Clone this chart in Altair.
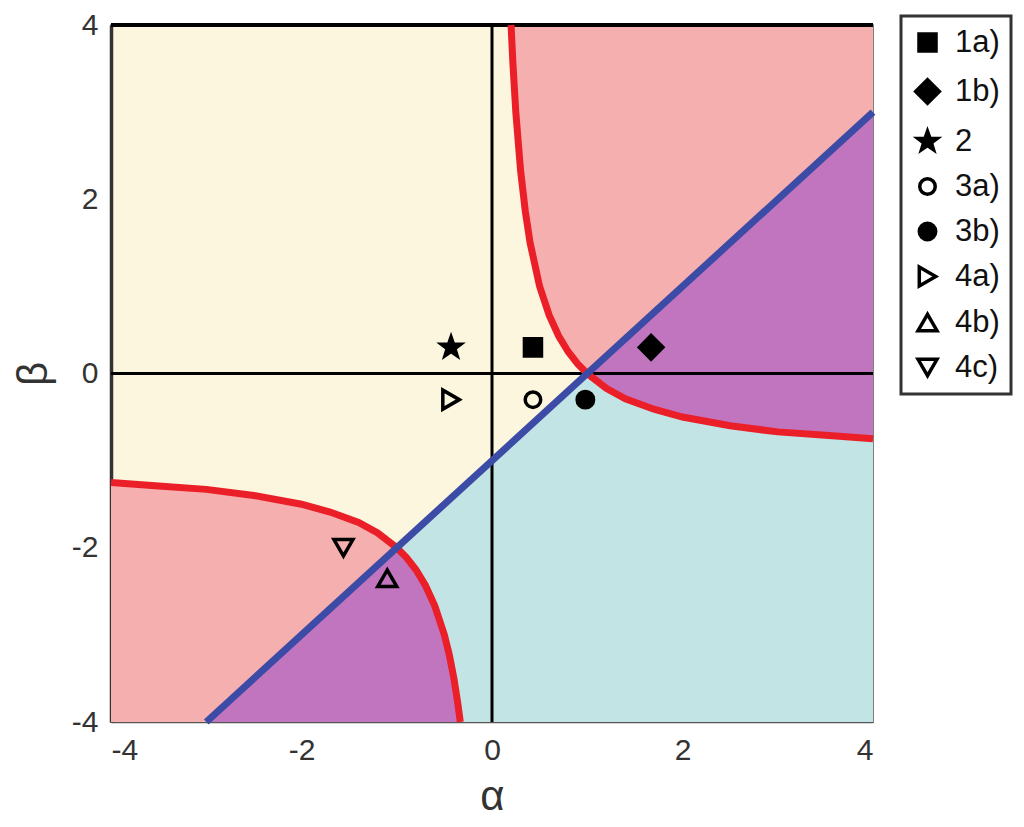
import altair as alt
import pandas as pd

# ---- data ----
# red curve, upper-right branch
red_up_a = [0.2, 0.22, 0.25, 0.3, 0.35, 0.4, 0.5, 0.6, 0.7, 0.8, 0.9, 1.0, 1.2, 1.4, 1.7, 2.0, 2.5, 3.0, 3.5, 4.0]
red_up_b = [4.0, 3.55, 3.0, 2.33, 1.86, 1.5, 1.0, 0.67, 0.43, 0.25, 0.11, 0.0, -0.17, -0.29, -0.41, -0.5, -0.6, -0.67, -0.71, -0.75]
# red curve, lower-left branch
red_lo_a = [-4.0, -3.5, -3.0, -2.5, -2.0, -1.7, -1.4, -1.2, -1.0, -0.9, -0.8, -0.7, -0.6, -0.5, -0.45, -0.4, -0.36, -0.333]
red_lo_b = [-1.25, -1.29, -1.33, -1.4, -1.5, -1.59, -1.71, -1.83, -2.0, -2.11, -2.25, -2.43, -2.67, -3.0, -3.22, -3.5, -3.78, -4.0]
# blue straight line end points
blue_a = [-3.0, 4.0]
blue_b = [-4.0, 3.0]

# markers
labels = ["1a)", "1b)", "2", "3a)", "3b)", "4a)", "4b)", "4c)"]
pt_a = [0.43, 1.67, -0.43, 0.43, 0.98, -0.43, -1.1, -1.56]
pt_b = [0.3, 0.3, 0.3, -0.3, -0.3, -0.3, -2.35, -2.0]

ticks = [-4, -2, 0, 2, 4]

# ---- styles ----
STAR = "M0,-1L0.235,-0.324L0.951,-0.309L0.38,0.124L0.588,0.809L0,0.4L-0.588,0.809L-0.38,0.124L-0.951,-0.309L-0.235,-0.324Z"
shapes = ["square", "diamond", STAR, "circle", "circle", "triangle-right", "triangle-up", "triangle-down"]
fills = ["black", "black", "black", "transparent", "black", "transparent", "transparent", "transparent"]
strokes = ["black"] * 8
sizes = [290, 560, 420, 240, 270, 360, 360, 360]

YELLOW = "#FCF6DF"
PINK = "#F6AFAF"
PURPLE = "#C275BF"
CYAN = "#C3E4E4"
RED = "#EA1F28"
BLUE = "#3C4BA5"
FONT = "Liberation Sans"

W, H = 762, 697

xs = alt.Scale(domain=[-4, 4], nice=False, zero=False)
ys = alt.Scale(domain=[-4, 4], nice=False, zero=False)


def poly(pts):
    return pd.DataFrame({"a": [p[0] for p in pts], "b": [p[1] for p in pts], "i": list(range(len(pts)))})


up = list(zip(red_up_a, red_up_b))
lo = list(zip(red_lo_a, red_lo_b))
blue_pts = list(zip(blue_a, blue_b))

pinkTR = poly(up + [(4.0, 4.0)])
pinkBL = poly([(-4.0, -4.0)] + lo)
cyan = poly(blue_pts + [(4.0, -4.0)])
purpleTR = poly([p for p in up if p[0] >= 1.0] + [blue_pts[1]])
purpleBL = poly([blue_pts[0]] + [p for p in lo if p[0] >= -1.0])


def fill_layer(df, color):
    return alt.Chart(df).mark_line(fill=color, strokeWidth=0, strokeOpacity=0).encode(
        x=alt.X("a:Q", scale=xs),
        y=alt.Y("b:Q", scale=ys),
        order="i:Q",
    )


base_x = alt.X("a:Q", scale=xs, title="α",
               axis=alt.Axis(values=ticks, ticks=False, grid=False, labelExpr="'' + datum.value",
                             labelPadding=13, titlePadding=11, domainColor="#555", domainWidth=1.5))
base_y = alt.Y("b:Q", scale=ys, title="β",
               axis=alt.Axis(values=ticks, ticks=False, grid=False, labelExpr="'' + datum.value",
                             labelPadding=13, titlePadding=16, domainColor="#333", domainWidth=3.5))

layers = []
# axis carrier (invisible)
layers.append(alt.Chart(pd.DataFrame({"a": [-4.0, 4.0], "b": [-4.0, 4.0]})).mark_point(opacity=0).encode(x=base_x, y=base_y))
layers += [fill_layer(pinkTR, PINK), fill_layer(pinkBL, PINK), fill_layer(cyan, CYAN),
           fill_layer(purpleTR, PURPLE), fill_layer(purpleBL, PURPLE)]

# zero lines and top border
layers.append(alt.Chart(pd.DataFrame({"v": [0]})).mark_rule(color="black", strokeWidth=3).encode(x=alt.X("v:Q", scale=xs)))
layers.append(alt.Chart(pd.DataFrame({"v": [0]})).mark_rule(color="black", strokeWidth=3).encode(y=alt.Y("v:Q", scale=ys)))
layers.append(alt.Chart(pd.DataFrame({"v": [4]})).mark_rule(color="black", strokeWidth=4).encode(y=alt.Y("v:Q", scale=ys)))

# red curves
red_df = pd.DataFrame({"a": red_up_a + red_lo_a, "b": red_up_b + red_lo_b,
                       "g": ["u"] * len(red_up_a) + ["l"] * len(red_lo_a),
                       "i": list(range(len(red_up_a))) + list(range(len(red_lo_a)))})
layers.append(alt.Chart(red_df).mark_line(color=RED, strokeWidth=7).encode(
    x=alt.X("a:Q", scale=xs), y=alt.Y("b:Q", scale=ys), detail="g:N", order="i:Q"))

# blue line
layers.append(alt.Chart(pd.DataFrame({"a": blue_a, "b": blue_b})).mark_line(color=BLUE, strokeWidth=7).encode(
    x=alt.X("a:Q", scale=xs), y=alt.Y("b:Q", scale=ys)))

# markers
pts = pd.DataFrame({"a": pt_a, "b": pt_b, "k": labels})
leg = alt.Legend(title=None, orient="none", legendX=790, legendY=-9)
layers.append(alt.Chart(pts).mark_point(filled=True, strokeWidth=3.5, opacity=1).encode(
    x=alt.X("a:Q", scale=xs), y=alt.Y("b:Q", scale=ys),
    shape=alt.Shape("k:N", scale=alt.Scale(domain=labels, range=shapes), legend=leg),
    fill=alt.Fill("k:N", scale=alt.Scale(domain=labels, range=fills), legend=leg),
    stroke=alt.Stroke("k:N", scale=alt.Scale(domain=labels, range=strokes), legend=leg),
    size=alt.Size("k:N", scale=alt.Scale(type="ordinal", domain=labels, range=sizes), legend=leg),
))

chart = alt.layer(*layers).properties(
    width=W, height=H,
    autosize=alt.AutoSizeParams(type="none"),
    padding={"left": 103, "top": 17, "right": 140, "bottom": 97},
).configure_view(
    fill=YELLOW, stroke="#555", strokeWidth=1.5
).configure_axis(
    labelFont=FONT, titleFont=FONT, labelFontSize=30, titleFontSize=42,
    labelColor="#333", titleColor="#333", titleFontWeight="normal",
).configure_legend(
    labelFont=FONT, labelFontSize=31, labelColor="#111", strokeColor="#333", strokeWidth=3,
    padding=11, rowPadding=13, labelOffset=12, symbolStrokeWidth=3.5,
    fillColor="white",
)

chart.save("out.html", embed_options={"renderer": "svg", "actions": False})
